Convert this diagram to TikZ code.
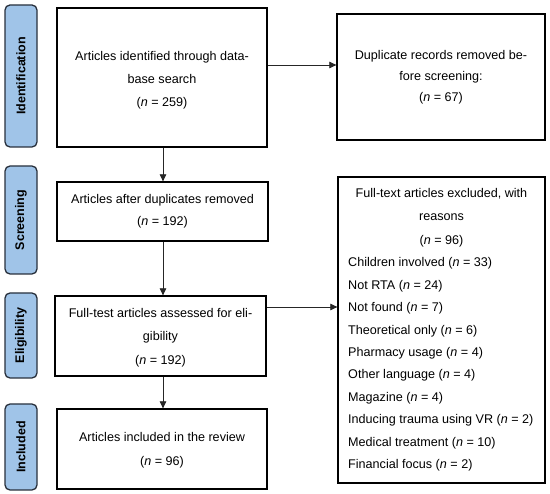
\documentclass[tikz,border=0pt]{standalone}
\usepackage{fontspec}
\setmainfont{Liberation Sans}
\usetikzlibrary{arrows.meta}
\definecolor{tabfill}{RGB}{160,196,232}
\definecolor{tabdraw}{RGB}{40,48,60}
\begin{document}
\begin{tikzpicture}[x=1pt,y=1pt,
  box/.style={draw=black, line width=1.3pt, align=center, inner sep=0pt,
    font=\fontsize{12.6pt}{23pt}\selectfont},
  tab/.style={draw=tabdraw, fill=tabfill, line width=1.3pt, rounded corners=5pt,
    rotate=90, inner sep=0pt, minimum height=32pt,
    font=\bfseries\fontsize{12.5pt}{15pt}\selectfont},
  arr/.style={draw=black!85, line width=0.7pt, -{Triangle[length=7pt,width=6.5pt]}},
  listtxt/.style={align=left, inner sep=0pt, font=\fontsize{12.6pt}{22.4pt}\selectfont},
  titletxt/.style={align=center, inner sep=0pt, font=\fontsize{12.6pt}{23.5pt}\selectfont}
]
\useasboundingbox (0,0) rectangle (550,-494);
% side tabs
\node[tab, minimum width=142pt] (tid) at (21,-76) {Identification};
\node[tab, minimum width=108pt] (tsc) at (21,-220) {Screening};
\node[tab, minimum width=85pt] (tel) at (21,-335.5) {Eligibility};
\node[tab, minimum width=86pt] (tin) at (21,-447) {Included};
% boxes
\node[box, minimum width=210pt, minimum height=139pt] (b1) at (162,-77.5)
  {\rule{0pt}{15pt}Articles identified through data-\\ base search\\ (\textit{n} = 259)};
\node[box, minimum width=208pt, minimum height=126pt,
  font=\fontsize{12.6pt}{21pt}\selectfont] (b2) at (441,-77)
  {Duplicate records removed be-\\ fore screening:\\ (\textit{n} = 67)};
\node[box, minimum width=211pt, minimum height=59pt,
  font=\fontsize{12.6pt}{22pt}\selectfont] (b3) at (162.5,-211.5)
  {Articles after duplicates removed\\ (\textit{n} = 192)};
\node[box, minimum width=211pt, minimum height=80pt,
  font=\fontsize{12.6pt}{23.5pt}\selectfont] (b4) at (160.5,-336)
  {\rule{0pt}{12pt}Full-test articles assessed for eli-\\ gibility\\ (\textit{n} = 192)};
\node[box, minimum width=210pt, minimum height=80pt,
  font=\fontsize{12.6pt}{24pt}\selectfont] (b5) at (162,-449)
  {\rule{0pt}{12pt}Articles included in the review\\ (\textit{n} = 96)};
\node[box, minimum width=207pt, minimum height=306pt] (ex) at (441.5,-330) {};
\node[titletxt] (extitle) at (441.5,-217.5)
  {Full-text articles excluded, with\\ reasons\\ (\textit{n} = 96)};
\node[listtxt, anchor=west] (exlist) at (348,-364.5)
  {Children involved (\textit{n} = 33)\\
   Not RTA (\textit{n} = 24)\\
   Not found (\textit{n} = 7)\\
   Theoretical only (\textit{n} = 6)\\
   Pharmacy usage (\textit{n} = 4)\\
   Other language (\textit{n} = 4)\\
   Magazine (\textit{n} = 4)\\
   Inducing trauma using VR (\textit{n} = 2)\\
   Medical treatment (\textit{n} = 10)\\
   Financial focus (\textit{n} = 2)};
% connectors
\coordinate (c1) at (163,0);
\draw[arr] (b1.south -| c1) -- (b3.north -| c1);
\draw[arr] (b3.south -| c1) -- (b4.north -| c1);
\draw[arr] (b4.south -| c1) -- (b5.north -| c1);
\coordinate (h1) at (0,-65);
\coordinate (h2) at (0,-307);
\draw[arr] (b1.east |- h1) -- (b2.west |- h1);
\draw[arr] (b4.east |- h2) -- (ex.west |- h2);
\end{tikzpicture}
\end{document}
